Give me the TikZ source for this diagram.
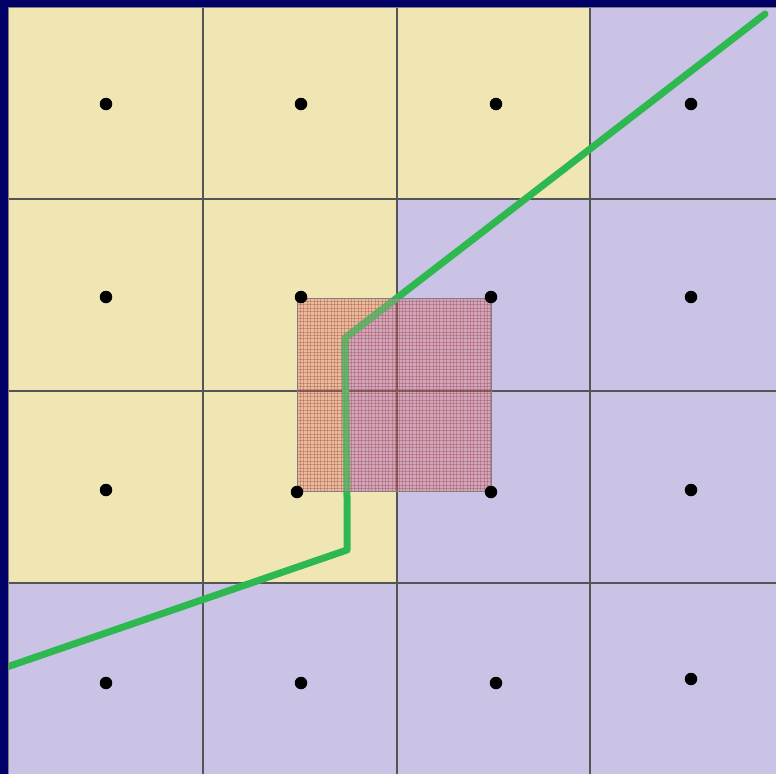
\documentclass[tikz,border=0pt]{standalone}
\definecolor{navy}{RGB}{0,0,102}
\definecolor{cellY}{RGB}{240,230,180}
\definecolor{cellL}{RGB}{202,195,230}
\definecolor{gline}{RGB}{45,184,80}
\definecolor{gridc}{RGB}{85,85,85}
\definecolor{redov}{RGB}{200,55,55}
\begin{document}
\begin{tikzpicture}[x=1pt,y=-1pt,
  dot/.style={circle,fill=black,inner sep=0pt,minimum size=12.5pt},
  gridline/.style={gridc,line width=1.8pt},
  route/.style={gline,line width=7pt,line join=round,line cap=round}]
\useasboundingbox (0,0) rectangle (776,774);
\fill[cellL] (0,0) rectangle (776,774);
\fill[cellY] (8,7) -- (590,7) -- (590,199) -- (397,199) -- (397,298) -- (345,338) -- (347,491) -- (397,491) -- (397,583) -- (8,583) -- cycle;
% grid
\foreach \x in {203,397,590} \draw[gridline] (\x,7) -- (\x,774);
\foreach \y in {199,391,583} \draw[gridline] (8,\y) -- (776,\y);
% green route
\coordinate (p1) at (4,668);
\coordinate (p2) at (347,550);
\coordinate (p3) at (347,497);
\coordinate (p4) at (345,338);
\coordinate (p5) at (765,14);
\draw[route] (p1) -- (p2) -- (p3) -- (p4) -- (p5);
% hatched square overlay
\begin{scope}
  \clip (297,298) rectangle (491,491);
  \fill[white,opacity=0.12] (297,298) rectangle (491,491);
  \fill[redov,opacity=0.24] (297,298) rectangle (491,491);
  \foreach \i in {0,...,57} {
    \draw[redov!80!black,opacity=0.3,line width=1pt] (297+3.4*\i,298) -- (297+3.4*\i,491);
    \draw[redov!80!black,opacity=0.3,line width=1pt] (297,298+3.4*\i) -- (491,298+3.4*\i);
  }
  \draw[route,gline!75!white,opacity=0.55] (p2) -- (p3) -- (p4) -- (p5);
\end{scope}
\draw[gray,line width=0.8pt] (297,298) rectangle (491,491);
% navy frame
\fill[navy] (0,0) rectangle (8,774);
\fill[navy] (0,0) rectangle (776,7);
\draw[gray,line width=1pt] (8.5,774) -- (8.5,7.5) -- (776,7.5);
% dots
\node[dot] (d11) at (106,104) {};
\node[dot] (d12) at (301,104) {};
\node[dot] (d13) at (496,104) {};
\node[dot] (d14) at (691,104) {};
\node[dot] (d21) at (106,297) {};
\node[dot] (d22) at (301,297) {};
\node[dot] (d23) at (491,297) {};
\node[dot] (d24) at (691,297) {};
\node[dot] (d31) at (106,490) {};
\node[dot] (d32) at (297,492) {};
\node[dot] (d33) at (491,492) {};
\node[dot] (d34) at (691,490) {};
\node[dot] (d41) at (106,683) {};
\node[dot] (d42) at (301,683) {};
\node[dot] (d43) at (496,683) {};
\node[dot] (d44) at (691,679) {};
\end{tikzpicture}
\end{document}
